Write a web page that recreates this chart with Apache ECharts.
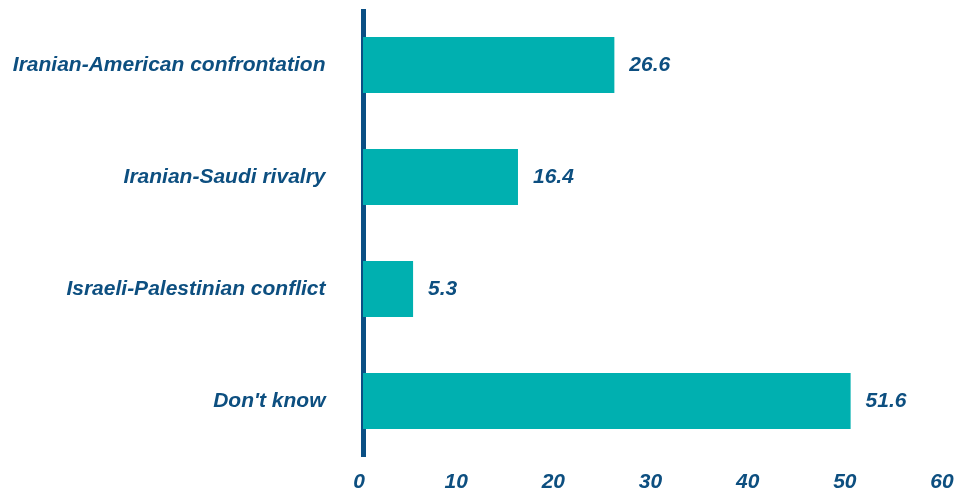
<!DOCTYPE html>
<html lang="en">
<head>
    <meta charset="UTF-8">
    <title>Conflict chart</title>
    <script src="https://cdn.jsdelivr.net/npm/echarts@6/dist/echarts.min.js"></script>
    <style>
        html, body { margin: 0; padding: 0; background: #ffffff; }
        #chart { width: 958px; height: 493px; }
    </style>
</head>
<body>
    <div id="chart"></div>
    <script>
        // data
        const categories = ['Iranian-American confrontation', 'Iranian-Saudi rivalry', 'Israeli-Palestinian conflict', "Don't know"];
        const values = [26.6, 16.4, 5.3, 51.6];

        const textBlue = '#0d4f80';
        const barColor = '#00b0b0';
        const font = {
            color: textBlue,
            fontFamily: 'Liberation Sans, Arial, sans-serif',
            fontWeight: 'bold',
            fontStyle: 'italic',
            fontSize: 21
        };

        const chart = echarts.init(document.getElementById('chart'));
        chart.setOption({
            animation: false,
            // grid 0 holds the bars, grid 1 only carries the tick labels (they sit a bit wider in the original)
            grid: [
                { left: 363, right: 28, top: 9, bottom: 36 },
                { left: 359, right: 16, top: 9, bottom: 36 }
            ],
            xAxis: [{
                type: 'value',
                gridIndex: 0,
                min: 0,
                max: 60,
                interval: 10,
                axisLine: { show: false },
                axisTick: { show: false },
                splitLine: { show: false },
                axisLabel: { show: false }
            }, {
                type: 'value',
                gridIndex: 1,
                min: 0,
                max: 60,
                interval: 10,
                axisLine: { show: false },
                axisTick: { show: false },
                splitLine: { show: false },
                axisLabel: Object.assign({ margin: 16 }, font)
            }],
            yAxis: [{
                type: 'category',
                gridIndex: 0,
                data: categories,
                inverse: true,
                offset: 2.5,
                axisLine: { show: true, lineStyle: { color: '#0a4f84', width: 5, cap: 'butt' } },
                axisTick: { show: false },
                axisLabel: Object.assign({ margin: 35 }, font)
            }, {
                type: 'category',
                gridIndex: 1,
                data: categories,
                show: false
            }],
            series: [{
                type: 'bar',
                xAxisIndex: 0,
                yAxisIndex: 0,
                data: values,
                barWidth: '50%',
                itemStyle: { color: barColor },
                label: Object.assign({
                    show: true,
                    position: 'right',
                    distance: 15,
                    formatter: p => p.value.toFixed(1)
                }, font)
            }]
        });
    </script>
</body>
</html>
